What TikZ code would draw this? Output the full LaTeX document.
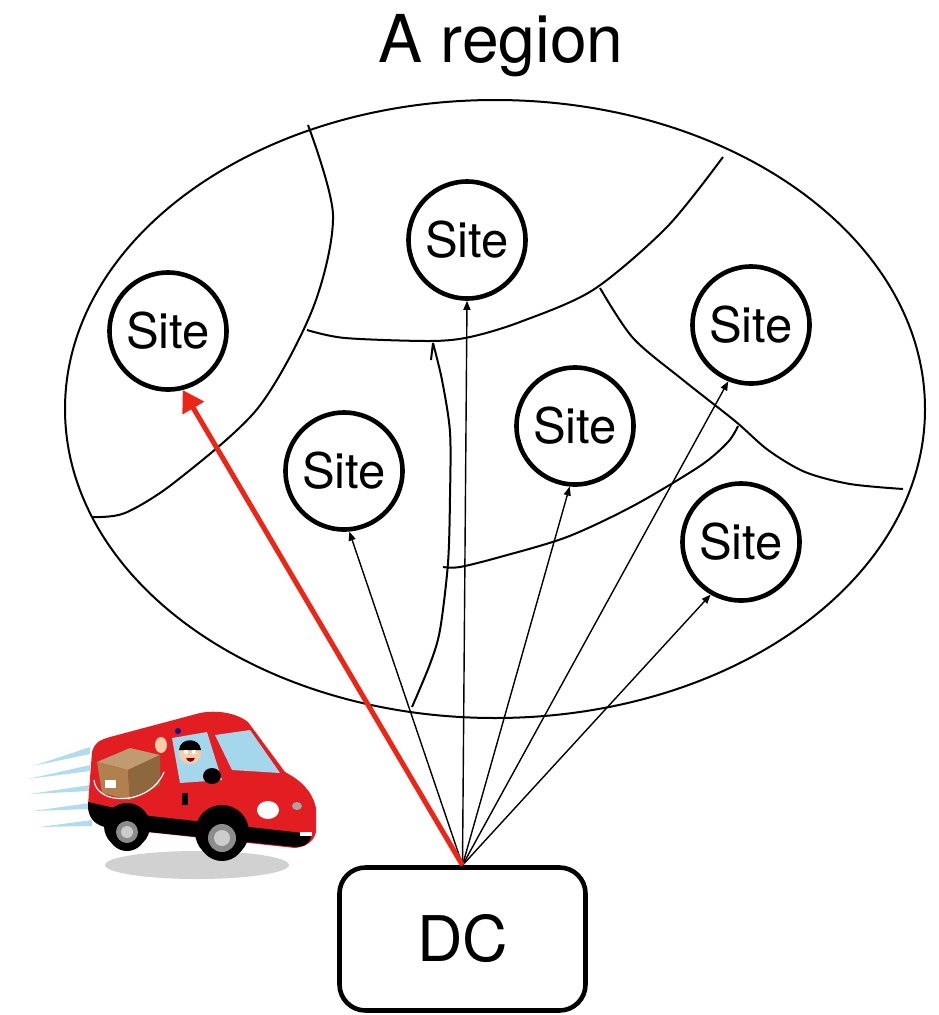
\documentclass[tikz,border=0pt]{standalone}
\usepackage{fontspec}
\setmainfont{TeX Gyre Heros}
\usetikzlibrary{shapes, arrows, arrows.meta}
\definecolor{arrowred}{RGB}{236,38,22}
\definecolor{vanred}{RGB}{226,30,34}
\definecolor{glass}{RGB}{165,215,236}
\definecolor{speed}{RGB}{178,220,238}
\definecolor{skin}{RGB}{248,205,170}
\definecolor{cardboard}{RGB}{176,128,78}
\tikzstyle{site} = [circle, draw=black, line width=4.6pt, minimum size=117pt, inner sep=0pt, font=\fontsize{49}{51}\selectfont]
\tikzstyle{dc} = [rectangle, rounded corners=26pt, draw=black, line width=4.6pt, minimum width=246pt, minimum height=143pt, font=\fontsize{63}{65}\selectfont]
\tikzstyle{border} = [line width=2pt]
\tikzstyle{arrow} = [line width=1.4pt, -{Triangle[length=9pt,width=7pt]}]
\tikzstyle{redarrow} = [line width=5pt, draw=arrowred, -{Triangle[length=21pt,width=24pt]}]

\begin{document}
\begin{tikzpicture}[x=1pt, y=-1pt]
\useasboundingbox (0,0) rectangle (938,1015);

\node (title) [anchor=base, font=\fontsize{66}{70}\selectfont] at (501,62) {A region};

\draw [border] (495,409) ellipse [x radius=430, y radius=309];
\draw [border] plot [smooth] coordinates {(308,125) (333,215) (313,308) (258,408) (175,482) (125,513) (93,517)};
\draw [border] plot [smooth] coordinates {(307,330) (345,338) (430,341) (470,337) (520,322) (593,290) (667,227) (723,157)};
\draw [border] plot [smooth] coordinates {(600,288) (633,338) (683,380) (735,421) (768,450) (805,472) (850,484) (903,489)};
\draw [border] plot [smooth] coordinates {(738,426) (728,442) (700,466) (633,506) (567,537) (500,557) (460,567) (443,567)};
\draw [border] (431,360) -- (433,343) plot [smooth] coordinates {(433,343) (442,380) (450,432) (450,497) (448,563) (440,630) (430,664) (412,707)};

\node (s1) [site] at (168,331) {Site};
\node (s2) [site] at (467,240) {Site};
\node (s3) [site] at (344,471) {Site};
\node (s4) [site] at (575,426) {Site};
\node (s5) [site] at (751,325) {Site};
\node (s6) [site] at (741,542) {Site};
\node (dc) [dc] at (462.5,939) {DC};

\draw [arrow] (dc.north) -- (s3.-85);
\draw [arrow] (dc.north) -- (s2.-90);
\draw [arrow] (dc.north) -- (s4.-95);
\draw [arrow] (dc.north) -- (s5.-112);
\draw [arrow] (dc.north) -- (s6.-120);
\draw [redarrow] (dc.north) -- (s1.-76);

\fill [black!18] (197,865) ellipse [x radius=92, y radius=14];
\fill [speed] (33,766) -- (90,747) -- (90,754) -- cycle;
\fill [speed] (28,779) -- (90,765) -- (90,771) -- cycle;
\fill [speed] (30,794) -- (90,785) -- (90,791) -- cycle;
\fill [speed] (33,811) -- (90,803) -- (90,809) -- cycle;
\fill [speed] (40,827) -- (92,820) -- (92,826) -- cycle;

\fill [vanred] (92,752) .. controls (95,742) and (100,740) .. (110,737) -- (200,713) .. controls (215,710) and (235,712) .. (248,722) -- (285,772) .. controls (300,780) and (312,790) .. (316,808) -- (316,832) .. controls (314,842) and (305,847) .. (295,848) -- (110,828) .. controls (95,826) and (88,818) .. (88,805) -- cycle;
\fill [black] (88,802) -- (150,816) -- (312,834) -- (310,840) .. controls (305,846) .. (295,847) -- (110,828) .. controls (95,826) and (88,818) .. (88,805) -- cycle;
\fill [black] (127,826) circle (23);
\fill [black] (222,832) circle (27);
\fill [black] (127,832) circle (19);
\fill [black!45] (127,832) circle (11);
\fill [black!20] (127,832) circle (6);
\fill [black] (222,838) circle (23);
\fill [black!45] (222,838) circle (14);
\fill [black!20] (222,838) circle (8);

\fill [glass] (215,735) -- (250,730) -- (280,773) -- (232,770) -- cycle;
\fill [glass] (172,738) -- (207,732) -- (222,780) -- (180,783) -- cycle;
\fill [skin] (190,753) circle (11);
\fill [black] (179,750) .. controls (180,737) and (200,737) .. (201,750) -- cycle;
\fill [blue!60!black] (178,731) circle (3);
\fill [white] (186,752) circle (2.2);
\fill [white] (194,752) circle (2.2);
\fill [red!50!black] (186,758) .. controls (188,763) and (193,763) .. (195,758) -- cycle;
\fill [skin] (161,745) ellipse [x radius=6, y radius=8];
\fill [black] (212,776) ellipse [x radius=9, y radius=8];
\fill [black] (182,793) rectangle (188,805);

\fill [cardboard!80!white] (97,762) -- (130,748) -- (160,755) -- (128,770) -- cycle;
\fill [cardboard] (97,762) -- (128,770) -- (130,800) -- (102,793) -- cycle;
\fill [cardboard!80!black] (128,770) -- (160,755) -- (160,785) -- (130,800) -- cycle;
\fill [white] (105,780) rectangle (116,788);
\draw [white, line width=1.2pt] (94,780) .. controls (96,806) and (150,806) .. (164,772);

\fill [white] (268,810) ellipse [x radius=11, y radius=9];
\fill [black!35] (297,806) ellipse [x radius=5, y radius=4];
\fill [white] (300,832) rectangle (312,836);
\end{tikzpicture}
\end{document}
